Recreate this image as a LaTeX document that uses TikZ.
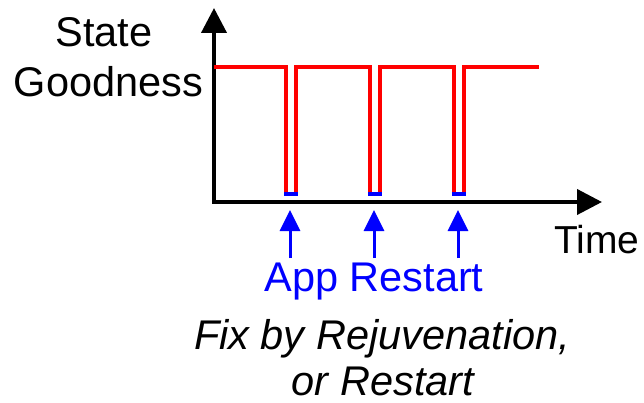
\documentclass[tikz,border=0pt]{standalone}
\usepackage{fontspec}
\setmainfont{Liberation Sans}
\usetikzlibrary{arrows.meta}
\begin{document}
\begin{tikzpicture}[x=1pt,y=-1pt,
  lbl/.style={inner sep=0pt,anchor=base,font=\fontsize{41.5}{48}\selectfont},
  axis/.style={line width=4pt,-{Triangle[length=25pt,width=25pt]}},
  goodness/.style={red,line width=4.5pt,line join=miter,line cap=butt},
  restart/.style={blue,line width=4pt},
  marker/.style={blue,line width=3pt,-{Triangle[length=21pt,width=20pt]}}]
\useasboundingbox (0,0) rectangle (644,403);

% axes
\coordinate (O) at (214,202);
\coordinate (Ytop) at (214,8);
\coordinate (Xstart) at (212,202);
\coordinate (Xend) at (602,202);
\draw[axis] (O) -- (Ytop);
\draw[axis] (Xstart) -- (Xend);

% state goodness trace with three short dips
\draw[goodness] (214,67) -- (286,67) -- (286,194)
  (296,194) -- (296,67) -- (370,67) -- (370,194)
  (380,194) -- (380,67) -- (454,67) -- (454,194)
  (464,194) -- (464,67) -- (539,67);
\foreach \c in {291,375,459}
  \draw[restart] (\c-7,194) -- (\c+7,194);

% restart markers
\foreach \c/\n in {290/a,374/b,458/c}{
  \coordinate (m\n) at (\c,258);
  \coordinate (t\n) at (\c,210);
  \draw[marker] (m\n) -- (t\n);
}

% labels
\node[lbl] (state) at (104,47) {State};
\node[lbl] (good) at (108.5,97) {Goodness};
\node[lbl,anchor=base west,font=\fontsize{39}{46}\selectfont] (time) at (554,253) {Time};
\node[lbl,text=blue] (app) at (374,291) {App Restart};
\node[lbl,font=\fontsize{41.5}{48}\selectfont\itshape] (fix) at (382,349) {Fix by Rejuvenation,};
\node[lbl,font=\fontsize{41.5}{48}\selectfont\itshape] (or) at (383,395) {or Restart};
\end{tikzpicture}
\end{document}
